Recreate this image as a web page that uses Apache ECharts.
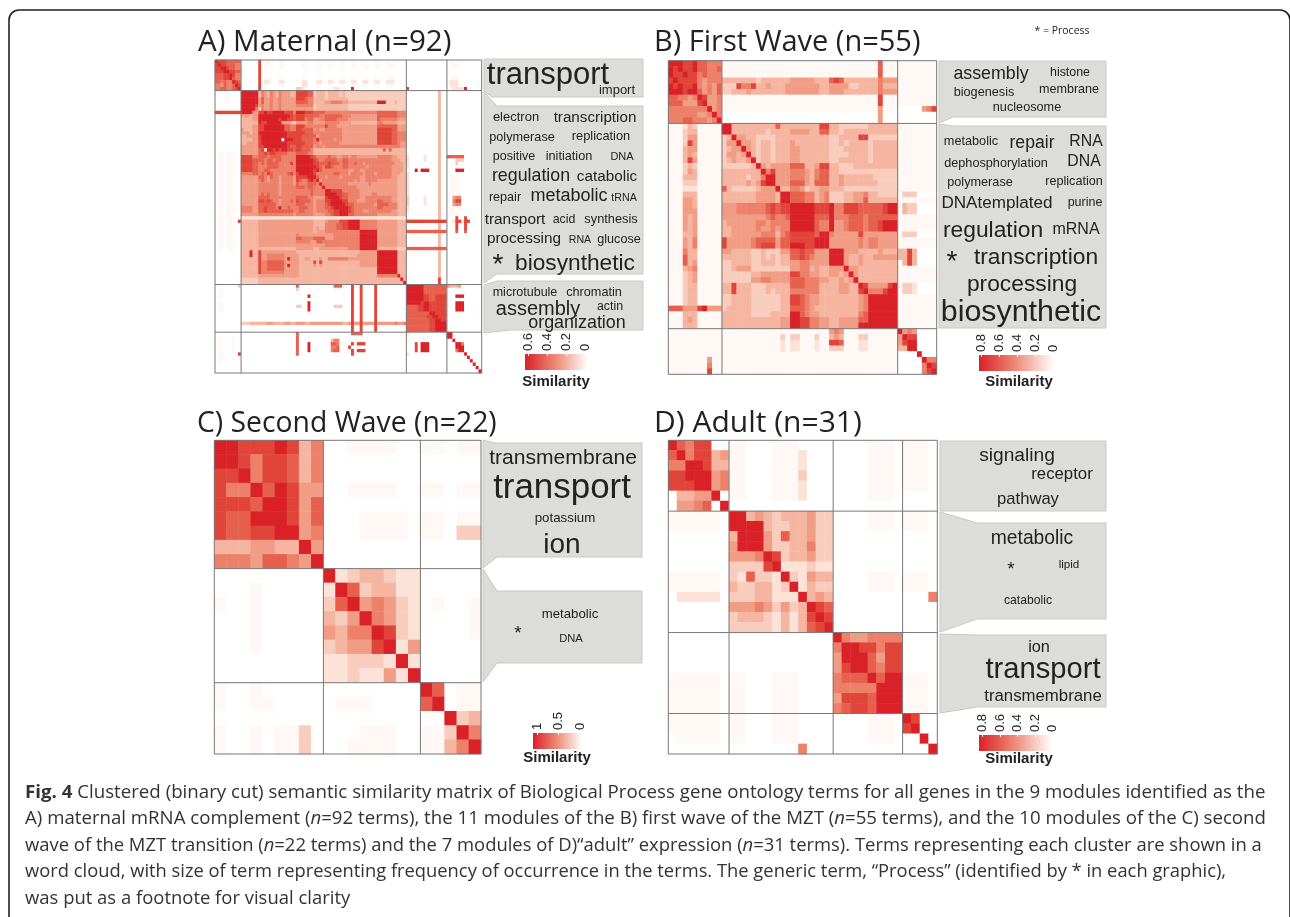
<!DOCTYPE html>
<html><head><meta charset="utf-8">
<script src="https://cdn.jsdelivr.net/npm/echarts@6/dist/echarts.min.js"></script>
<style>html,body{margin:0;padding:0;background:#fff}#c{width:1290px;height:917px}</style>
</head><body><div id="c"></div>
<script>
// Similarity levels: 0 (none) .. 9 (strongest). Spaces only group cells for reading.
const clustersA = [9, 57, 14, 12];
const clustersB = [11, 36, 8];
const clustersC = [9, 8, 5];
const clustersD = [7, 12, 8, 4];

const matrixA = [
"988877777 000000 8011000110000 001100 0110 01100110 0110 011001 1001110 000 00000000000000 011100000000",
"898877766 000000 8011000110000 001100 0110 01100110 0110 011001 1001110 000 00000000000000 011100000000",
"889987766 000000 8011000110000 001100 0110 01100110 0110 011001 1001110 000 00000000000000 011100000000",
"888998877 000000 8000000000000 000000 0000 00000000 0000 000000 0000000 000 00000000000000 000000000000",
"777889866 000000 8000000000000 000000 0000 00000000 0000 000000 0000000 000 00000000000000 000000000000",
"777889766 000000 8011000110000 001100 0110 01100110 0110 011001 1001110 000 00000000000000 011100000000",
"776766987 000000 8022000220000 002200 0220 02200220 0220 022002 2002220 000 00000000000000 022200000000",
"665766798 000000 8011000110000 002200 0110 01100110 0110 011001 1001110 000 00000000000000 022200000000",
"667766789 000000 8000000000000 332000 0000 00022100 0900 000000 0000000 000 80000000000000 112222900000",
"000110000 999999 4654654655544 888877 3444 34444343 3333 333333 3333333 333 00000000000400 000000000000",
"000110000 999999 4654654655544 888877 3444 34444343 3333 333333 3333333 333 00000000000400 000000000000",
"000110000 999999 5755655655555 888766 4444 34444444 3333 333333 3333333 333 00000000000400 000000000000",
"000110000 999999 5755655655555 777766 4444 55666655 4444 444444 9993334 333 00000000000400 000000000000",
"000000000 999998 5655655655555 666666 3444 44444444 3333 333333 3333333 333 00000000000400 000000000000",
"000000000 999996 3655655655555 555555 3444 44444444 3333 333333 3333333 333 00000000000400 000000000000",
"888888888 999955 8898899998886 999888 7777 66666666 6666 666666 7777777 666 00000000000400 000000000000",
"000000000 555455 9999999999987 888777 7766 77777766 6555 555555 7777777 666 00000000000400 000000000000",
"000000000 444455 9999999899887 888677 5566 77776666 5555 555555 7666666 555 00000000000400 000000000000",
"000000000 444444 9889999955543 555566 5555 66666555 5444 444444 6655555 444 00000000000400 000000000000",
"000000000 444455 8899999997766 888666 6666 86665555 5555 555555 7777777 555 00000000000400 000000000000",
"000000000 544455 8899999997766 887777 5655 66666655 5555 555555 8888877 555 00000000000400 000000000000",
"000000000 555455 9999999999888 888777 6666 66666655 5555 555555 8888877 666 00000000000400 000000000000",
"000000000 445555 8999999999888 887777 7566 66666655 5555 555555 8888877 666 00000000000400 000000000000",
"000000000 444455 8999999929998 887777 6966 66656655 5555 555555 8888877 666 00000000000400 000000000000",
"000000000 445555 8999999999888 888777 6656 66666555 5555 555555 8888877 655 00000000000400 000000000000",
"000000000 555555 8899999999877 887777 5665 66666666 6666 666666 6666666 655 00000000000400 000000000000",
"000000000 555555 7829989899887 887776 4444 44444444 4444 444444 4474744 444 00000000000400 000000000000",
"011011100 555555 7787887777666 777766 4444 44444444 4444 444444 4444444 444 00000000000400 011110000000",
"011011100 888866 7776777766666 999998 7666 67665566 5665 555555 6666655 444 20000020000400 777777000000",
"011011100 888877 7767767766666 999999 8766 77776677 6666 666666 6666655 544 20000020000400 000333000000",
"011011100 888877 6767777666686 999999 8877 78777677 6676 656666 6666665 554 20000000000400 000300000000",
"011011100 888877 6667777666666 999999 9876 88766677 6666 665666 6666655 554 20000000000400 000100000000",
"011011100 888877 6677666666666 999999 8976 66666666 5566 556666 6666655 554 00090999000400 000999000000",
"011011100 666677 6768766666786 899999 8666 66677666 5666 656665 6666655 544 20000000000400 000100000000",
"011011100 555555 7765766566665 888899 9766 56666566 6666 556666 6666655 444 20000000000400 011110000000",
"011011100 555555 6765666566665 876689 7956 66666666 6656 556666 5555555 444 20000000000400 011110000000",
"011011100 555555 6666666566665 766677 7696 66666666 5555 555655 5555555 444 20000000000400 011110000000",
"011011100 555555 6666666566666 777677 6669 66666666 6665 555555 5555555 444 20000000000400 011110000000",
"011011100 555555 6666666566666 666667 6666 99888866 6666 555555 5555555 444 20000000000400 011110000000",
"011011100 555555 6767666566666 666667 6666 99998877 6666 555566 5555555 444 20000000000400 011110000000",
"011011100 555555 7777666666666 777766 5555 89999877 6666 556666 6666655 444 30000020000400 005660000000",
"011011100 555555 8878766566676 877776 5666 88999988 6665 556666 7766655 444 30000020000400 006880000000",
"011011100 555555 7777776566666 777666 5666 78999998 7766 666665 7777666 444 30000020000400 005660000000",
"011011100 666655 7787776966766 677766 5666 77899999 8766 666666 7766666 444 20000000000400 011110000000",
"011011100 666655 7787777777776 677666 5666 67788999 8766 655666 6666655 444 20000000000400 011110000000",
"011011100 555555 6666666666665 666666 5555 66788999 7766 666666 5555555 444 00000000000400 011110000000",
"011011100 222222 2222222222222 222222 2222 22222222 2222 222222 2222222 222 00000000000400 000800800000",
"011011108 444444 5555555555555 555555 4444 56666888 9999 666666 5555555 444 88888888888888 002882880000",
"011011100 444444 5555555555555 555555 4444 66667788 9999 666666 5555555 444 00000000000400 000800800000",
"011011100 444444 5555555555555 555555 4544 66667788 9999 666666 5555555 444 00000000000400 000800800000",
"011011100 444444 5555555555555 555555 4555 66666666 6666 999999 5555555 444 77777777777777 000700700000",
"011011100 444444 5555555555555 655555 5555 55566666 6666 999999 5555555 444 00000000000400 000000000000",
"011011100 444444 5555555555555 776666 7777 55566666 6666 999999 5555555 444 00000000000400 000000000000",
"011011100 444444 5555555555555 666665 5776 66666666 6666 999999 5555555 444 00000000000400 000000000000",
"011011100 444444 5555555555555 555555 5555 66666666 6666 999999 5555555 444 00000000000400 000000000000",
"011011100 444444 4444444444444 555555 4455 55555555 6666 999999 4444444 333 77777777777777 000000000000",
"000000000 444944 8555555555555 444444 4444 44444444 4444 555555 9999999 444 00000000000400 000000000000",
"000000000 444944 8556666665555 544444 4444 44444444 4445 555555 9999999 444 00000000000400 000000000000",
"000000000 444444 8556666665955 544554 4454 46666666 5555 555555 9999999 444 00000000000400 000000000000",
"000000000 444444 8667777775555 544444 8484 44444444 4444 555555 9999999 444 00000000000400 000000000000",
"000000000 444444 8667777775955 544444 5454 44444444 4444 555555 9999999 444 00000000000400 000000000000",
"000000000 444444 8667777775555 544444 4444 44444444 4444 444444 9999999 444 00000000000400 000000000000",
"000000000 444444 8666666665555 544444 4444 44444444 4444 444444 9999999 444 00000000000400 000000000000",
"000000000 444444 5555555555555 544444 4444 44444444 4444 444444 6666666 944 00000000000400 000000000000",
"000000000 333333 4444444444444 444444 4444 44444444 4444 444444 4444444 494 00000000000800 000000000000",
"000000000 333333 4444444444444 444444 4444 44444444 4444 444444 4444444 449 00000000000800 000000000000",
"000000003 000000 0000000000000 700000 0000 00077700 0800 800008 0000000 000 99999977777777 544450000000",
"011000000 000000 0000000000000 300000 0000 00011100 0800 800008 0000000 000 99999977777777 000111000000",
"011000000 000000 0000000000000 000000 0000 00000000 0800 800008 0000000 000 99999977777777 000000000000",
"011000000 000000 0000000000000 000090 0000 00000000 0800 800008 0000000 000 99999988778888 000999000000",
"000000000 000000 0000000000000 000000 0000 00000000 0800 800008 0000000 000 99999988778888 000100000000",
"011000000 000000 0000000000000 000090 0000 00000000 0800 800008 0000000 000 99999899888888 000999000000",
"011000000 000000 0000000000000 330090 0000 00033300 0800 800008 0000000 000 77778899888888 000999000000",
"011000000 000000 0000000000000 000090 0000 00000000 0800 800008 0000000 000 77778899888888 000999000000",
"000000000 000000 0000000000000 000000 0000 00000000 0800 800008 0000000 000 77777777998888 000000000000",
"000000000 000000 0000000000000 000000 0000 00000000 0800 800008 0000000 000 77777778899888 000000000000",
"000000000 000000 0000000000000 000000 0000 00000000 0800 800008 0000000 000 77777777889988 000000000000",
"000000000 333444 4445544445544 555445 5555 55555544 5855 855558 5555556 556 77777777889999 000000000000",
"000000000 000000 0000000000000 000000 0000 00000000 0800 800008 0000000 000 77777777889999 000000000000",
"000000000 000000 0000000000000 000000 0000 00000000 0800 800008 0000000 000 77777777889999 000000000000",
"000000000 000000 0000000000000 700000 0000 00000000 0777 700000 0000000 000 20000000000000 990000000000",
"011000100 000000 0000000000000 700000 0000 00000000 0000 000000 0000000 000 10000000000000 990000000000",
"011000100 000000 0000000000000 700000 0000 00466000 0000 000000 0000000 000 10000000000000 009000000000",
"011000100 000000 0000000000000 700090 0000 00776000 0808 880000 0000000 000 00080999000000 000996000000",
"011000100 000000 0000000000000 700090 0000 00667000 8000 000000 0000000 000 00080999000000 000999000000",
"011000100 000000 0000000000000 700090 0000 00677000 0808 880000 0000000 000 00080999000000 000699000000",
"011000108 000000 0000000000000 700000 0000 00000000 0800 000000 0000000 000 20000000000000 000000900000",
"011000100 000000 0000000000000 000000 0000 00000000 0000 000000 0000000 000 00000000000000 000000090000",
"011000100 000000 0000000000000 000000 0000 00000000 0000 000000 0000000 000 00000000000000 000000009000",
"000000000 000000 0000000000000 000000 0000 00000000 0000 000000 0000000 000 00000000000000 000000000900",
"000000000 000000 0000000000000 000000 0000 00000000 0000 000000 0000000 000 00000000000000 000000000090",
"000000000 000000 0000000000000 000000 0000 00000000 0000 000000 0000000 000 00000000000000 000000000009"
];

const matrixB = [
"99988977666 111111 111111 111111 111111 111111 117111 11111111",
"98988977667 111111 111111 111111 111111 111111 117111 11111111",
"98898867666 111111 111111 111111 111111 111111 117111 11111111",
"89888865666 444444 434444 445555 544478 744444 446555 11111111",
"98988965657 333866 844544 455555 554455 553344 446444 11111111",
"99989975657 334445 444444 455555 554455 544444 446555 11111111",
"77665698556 111111 111111 111111 111111 111111 118111 11111111",
"77755589556 111111 111111 111111 111111 111111 118111 11111111",
"66666666956 111111 111111 111111 111111 111111 115111 00000568",
"66666655696 000000 000000 000000 000000 000000 005000 00000000",
"66677666569 000000 000000 000000 000000 000000 005000 00000000",
"11124311111 994444 444447 444444 448844 333333 444444 11111111",
"11134411111 994444 444344 445555 447744 344444 444444 11111111",
"11135511111 349554 433334 444444 444433 444488 333333 11111111",
"11138511111 355955 434434 445444 444433 434444 344444 11111111",
"11145511111 345595 434434 445544 444433 344444 344444 11111111",
"11145411111 355459 434434 445544 444433 334444 344444 11111111",
"11148511111 345445 934434 445544 444433 444444 344444 11111111",
"11134311111 333333 495455 557774 458844 333444 444444 11111111",
"11135411111 444444 449685 556665 467744 333333 333333 11111111",
"11144411111 444443 446995 556665 467744 544444 433333 11111111",
"11133311111 444445 458995 557775 477744 544444 443333 11111111",
"11122211111 743333 345559 446653 445544 433333 333333 11111111",
"11144411111 444444 455554 997776 645633 344556 443333 13330000",
"11155411111 444444 455554 997776 645633 344557 444444 11111111",
"11155411111 555666 666787 889999 988896 688877 777899 14330000",
"11155511111 555666 666787 889999 988896 688877 777899 14330000",
"11154511111 555555 555676 679999 977796 667776 777777 11111111",
"11154511111 455555 566566 669999 976695 567776 778999 11111111",
"11154511111 445555 565565 669999 976695 567776 778999 11111111",
"11144511111 445555 556664 678888 879965 555585 555555 13330000",
"11154611111 855555 677775 778888 899955 555565 665555 11111111",
"11154611111 855555 678885 779998 899955 555565 665555 11111111",
"11164411111 554444 334333 557787 755599 955544 445444 44840000",
"11174411111 444444 334343 447787 655599 954454 455555 44840000",
"11174511111 334444 334443 445566 555599 954454 444444 04840000",
"11145611111 334555 333333 335566 454455 595544 444444 11111111",
"11134511111 333333 445555 558866 554455 459544 444444 11111111",
"11134511111 333333 556655 557776 665544 545944 444444 11111111",
"11134411111 448444 333444 447776 664444 554498 555589 13320000",
"11134411111 448444 333434 446666 664444 554489 666899 13320000",
"11134411111 334444 333333 448876 554444 444456 999999 11111111",
"11134411111 334444 333333 448876 554444 444456 999999 11111111",
"77755589555 344444 333333 447776 544444 444456 999999 11111111",
"11144411111 444444 333344 449976 554444 444467 999999 11111111",
"11145411111 444444 444444 559988 665544 555577 999999 11111111",
"11144411111 444444 444444 559988 665544 555599 999999 11111111",
"11111111111 111111 111111 111111 111156 511111 111111 95650000",
"11111111111 111111 111111 313311 131145 411133 111111 59880000",
"11111111111 111111 111111 212211 121188 711122 111111 58990000",
"11111111111 111111 111111 212211 121133 311122 111111 44990000",
"11111111111 111111 111111 111111 111111 111111 111111 00009000",
"11111111511 111111 111111 111111 111111 111111 111111 00000966",
"11111111611 111111 111111 111111 111111 111111 111111 00000698",
"11111111811 111111 111111 111111 111111 111111 111111 00000689"
];

const matrixC = [
"998889846 00111100 11011",
"998688746 00000000 00000",
"889688746 00000000 00000",
"866979855 00111100 11011",
"888799857 00000000 00000",
"877999857 00011110 11011",
"877889956 00011110 11033",
"444554495 00000000 00000",
"666577659 00000000 00000",
"000000000 92344322 00000",
"000100000 29734422 00000",
"100100000 37956532 01001",
"000100000 43596532 00001",
"000100000 54669832 00001",
"000100000 34558925 00000",
"000000000 22333292 00000",
"000000000 22322529 00000",
"100100000 00000000 97011",
"100110000 01110000 79011",
"000000000 00000000 00934",
"100101130 00011100 11396",
"100101130 00111100 11469"
];

const matrixD = [
"9768800 110001110000 00001110 1110",
"7968845 110001112000 00001110 1110",
"6699844 110001112000 00001110 1110",
"8899956 110001113000 00001110 1110",
"8889956 110001112000 00001110 1110",
"0445590 110001112000 00001110 0000",
"0556709 000000000000 00000000 0000",
"1111110 994543444533 00001110 1110",
"1111110 999943344533 00001110 1110",
"0000000 499953744533 00000000 0000",
"0000000 599953344633 00000000 0000",
"0000000 555698344533 00000000 0000",
"0000000 333389222322 00000000 0000",
"1111110 327332932544 00001110 1110",
"1111110 433442392433 00001110 1110",
"0222220 333442229454 00000000 0006",
"0000000 555653534987 00000000 0000",
"0000000 344432424898 00000000 0000",
"0000000 333332424789 00000000 0000",
"0000000 000000000000 96556666 0000",
"0000000 000000000000 69988688 0000",
"0000000 000000000000 59997588 0000",
"0000000 000000000000 58997688 0000",
"1111110 110001110000 67779799 1110",
"1111110 110001110000 66666999 1110",
"1111110 110001110000 58887999 1110",
"1111110 110001110000 67887999 1110",
"1111110 110001110000 00001110 9800",
"1111110 110001110000 00001110 8900",
"0111110 110001110000 00001110 0090",
"0000000 000000006000 00000000 0009"
];

const panelTitles = ["A) Maternal (n=92)", "B) First Wave (n=55)", "C) Second Wave (n=22)", "D) Adult (n=31)"];
const legendTicksA = ["0.6", "0.4", "0.2", "0"];
const legendTicksB = ["0.8", "0.6", "0.4", "0.2", "0"];
const legendTicksC = ["1", "0.5", "0"];
const legendTicksD = ["0.8", "0.6", "0.4", "0.2", "0"];
const captionLines = [
"{b|Fig. 4} Clustered (binary cut) semantic similarity matrix of Biological Process gene ontology terms for all genes in the 9 modules identified as the",
"A) maternal mRNA complement ({i|n}=92 terms), the 11 modules of the B) first wave of the MZT ({i|n}=55 terms), and the 10 modules of the C) second",
"wave of the MZT transition ({i|n}=22 terms) and the 7 modules of D)\u201cadult\u201d expression ({i|n}=31 terms). Terms representing each cluster are shown in a",
"word cloud, with size of term representing frequency of occurrence in the terms. The generic term, \u201cProcess\u201d (identified by * in each graphic),",
"was put as a footnote for visual clarity"
];
const cloudWords = [
"transport","import",
"electron","transcription","polymerase","replication","positive","initiation","DNA","regulation","catabolic","repair","metabolic","tRNA","transport","acid","synthesis","processing","RNA","glucose","*","biosynthetic",
"microtubule","chromatin","assembly","actin","organization",
"assembly","histone","biogenesis","membrane","nucleosome",
"metabolic","repair","RNA","dephosphorylation","DNA","polymerase","replication","DNAtemplated","purine","regulation","mRNA","*","transcription","processing","biosynthetic",
"transmembrane","transport","potassium","ion",
"metabolic","*","DNA",
"signaling","receptor","pathway",
"metabolic","*","lipid","catabolic",
"ion","transport","transmembrane"
];

// ---- layout (not data) ----
const wordLayout = [
[548,73,31],[617,90,13],
[516,117,13],[595,117,15.2],[522,137,12.7],[601,136,12.8],[514,156,12.5],[569,156,12.7],[622,156,11],[531,175,17.8],[607,176,15.3],[505,197,12.6],[569,195,18],[624,197,10.7],[515,219,15.4],[564,219,12.4],[611,219,12.8],[524,238,15.3],[580,239,10.6],[619,239,12.6],[498,263,28],[575,262,22.7],
[525,292,12.5],[594,292,12.7],[538,308,20],[610,306,12.3],[577,322,17.9],
[991,73,17.8],[1070,72,12.4],[984,92,12.7],[1069,89,12.6],[1027,107,12.7],
[971,141,12.7],[1032,142,17.6],[1086,141,15.8],[996,163,12.7],[1084,161,15.8],[980,182,12.7],[1074,181,12.6],[997,202,17.1],[1085,202,12.5],[993,229,22.8],[1076,228,16],[952,260,28],[1036,256,22.8],[1022,283,22.8],[1021,310,30.4],
[563,457,21.1],[562,486,34.9],[565,517,13.3],[562,543,28],
[570,613,13.2],[518,632,19],[571,638,11.2],
[1017,454,19.2],[1062,473,16.8],[1028,498,16.6],
[1032,537,19.3],[1011,568,19],[1069,564,11.6],[1028,600,12.2],
[1039,646,16.3],[1043,668,29.2],[1043,695,16.8]
];
const titleLayout = [[198,43,1.02],[654,43,1],[197,424,0.977],[654,424,1.035]];
const captionY = [793,819,846,872,899];
const captionScale = [1.038,1.036,1.023,1.019,1.025];
const gridLayout = [
 {left:215,top:60,width:266.7,height:313},
 {left:668.3,top:60.7,width:268.4,height:313.6},
 {left:214.3,top:440.3,width:266.7,height:313.7},
 {left:668.3,top:440.3,width:269,height:313.7}
];
const legendLayout = [
 {x:525,w:63,y:354,h:16,lx:[528,547,566,585],base:351,cx:556,cy:382},
 {x:979,w:75,y:355,h:16,lx:[981,999,1017,1035,1053],base:352,cx:1019,cy:382},
 {x:533,w:49,y:733,h:16,lx:[537,558,580],base:730,cx:557,cy:758},
 {x:979,w:73,y:735,h:16,lx:[982,1000,1017,1035,1052],base:732,cx:1019,cy:759}
];
const panelPolys = [
 [[484,59],[643,59],[643,97],[492,97],[484,91]],
 [[484,92],[497,106],[643,106],[643,274],[497,274],[484,283]],
 [[484,285],[497,281],[643,281],[643,330],[510,330],[484,333]],
 [[939,61],[1106,61],[1106,117],[953,117],[939,123]],
 [[939,124],[953,126],[1106,126],[1106,328],[939,328]],
 [[483,440],[495,443],[642,443],[642,557],[497,557],[483,568]],
 [[483,569],[497,591],[642,591],[642,663],[497,663],[483,682]],
 [[940,441],[1106,441],[1106,511],[940,511]],
 [[940,512],[977,523],[1106,523],[1106,619],[977,619],[940,632]],
 [[940,634],[977,635],[1106,635],[1106,707],[977,707],[940,713]]
];

const levelColors = ['#ffffff','#fff8f5','#fde2d7','#f9cdbd','#f5b5a0','#f19c85','#ec8069','#e7604e','#e14439','#da2128'];
const WORD_FONT = '"Liberation Sans", Arial, sans-serif';
const TITLE_FONT = '"Open Sans", sans-serif';

const matrices = [matrixA, matrixB, matrixC, matrixD];
const clusters = [clustersA, clustersB, clustersC, clustersD];
const legends = [legendTicksA, legendTicksB, legendTicksC, legendTicksD];

function cells(rows){
  const out = [];
  rows.forEach((r,y)=>{ const s = r.replace(/\s+/g,''); for(let x=0;x<rows.length;x++){ out.push([x,y,+(s[x]||0)]); } });
  return out;
}
function separators(sizes){
  const n = sizes.reduce((a,b)=>a+b,0), segs = [[0,0,n,0],[0,n,n,n],[0,0,0,n],[n,0,n,n]];
  let c = 0;
  sizes.slice(0,-1).forEach(s=>{ c+=s; segs.push([c,0,c,n]); segs.push([0,c,n,c]); });
  return segs;
}

const grid=[], xAxis=[], yAxis=[], series=[], heatIdx=[];
matrices.forEach((rows,i)=>{
  const n = rows.length, idx = [...Array(n).keys()];
  grid.push(gridLayout[i]);
  xAxis.push({type:'category',gridIndex:i,data:idx,show:false});
  yAxis.push({type:'category',gridIndex:i,data:idx,show:false,inverse:true});
  xAxis.push({type:'value',gridIndex:i,min:0,max:n,show:false});
  yAxis.push({type:'value',gridIndex:i,min:0,max:n,show:false,inverse:true});
  heatIdx.push(series.length);
  series.push({type:'heatmap',xAxisIndex:2*i,yAxisIndex:2*i,data:cells(rows),progressive:0,silent:true,emphasis:{disabled:true},itemStyle:{borderWidth:0}});
  series.push({type:'custom',xAxisIndex:2*i+1,yAxisIndex:2*i+1,clip:false,silent:true,z:5,
    data:separators(clusters[i]),encode:{x:[0,2],y:[1,3]},
    renderItem:(p,api)=>{
      const a=api.coord([api.value(0),api.value(1)]), b=api.coord([api.value(2),api.value(3)]);
      return {type:'line',shape:{x1:a[0],y1:a[1],x2:b[0],y2:b[1]},style:{stroke:'#777',lineWidth:1}};
    }});
});

const gfx=[];
gfx.push({type:'rect',shape:{x:9,y:10,width:1281,height:930,r:10},style:{fill:'none',stroke:'#222',lineWidth:1.6},silent:true});
panelPolys.forEach(p=>gfx.push({type:'polygon',shape:{points:p},style:{fill:'#dcdcd8',stroke:'#c8c8c4',lineWidth:1},silent:true}));
cloudWords.forEach((w,i)=>{
  const [x,y,s]=wordLayout[i];
  gfx.push({type:'text',x,y:y+s*0.07,silent:true,style:{text:w,font:s+'px '+WORD_FONT,fill:'#222',align:'center',verticalAlign:'middle'}});
});
panelTitles.forEach((t,i)=>{
  gfx.push({type:'text',x:titleLayout[i][0],y:titleLayout[i][1],scaleX:titleLayout[i][2],silent:true,style:{text:t,font:'29px '+TITLE_FONT,fill:'#222',align:'left',verticalAlign:'middle'}});
});
gfx.push({type:'text',x:1062,y:31,silent:true,style:{text:'* = Process',font:'10.5px '+TITLE_FONT,fill:'#222',align:'center',verticalAlign:'middle'}});
legendLayout.forEach((L,i)=>{
  gfx.push({type:'rect',shape:{x:L.x,y:L.y,width:L.w,height:L.h},silent:true,style:{fill:{type:'linear',x:0,y:0,x2:1,y2:0,colorStops:[{offset:0,color:'#da2128'},{offset:.5,color:'#ee8d78'},{offset:1,color:'#ffffff'}]}}});
  legends[i].forEach((t,k)=>{
    gfx.push({type:'text',x:L.lx[k],y:L.base,rotation:Math.PI/2,silent:true,style:{text:t,font:'13px '+WORD_FONT,fill:'#222',align:'left',verticalAlign:'middle'}});
    gfx.push({type:'rect',shape:{x:L.lx[k],y:L.y,width:1,height:2},silent:true,style:{fill:'#fff'}});
  });
  gfx.push({type:'text',x:L.cx,y:L.cy,silent:true,style:{text:'Similarity',font:'bold 15px '+WORD_FONT,fill:'#222',align:'center',verticalAlign:'middle'}});
});
captionLines.forEach((t,i)=>{
  gfx.push({type:'text',x:25,y:captionY[i],scaleX:captionScale[i],silent:true,style:{text:t,font:'18px '+TITLE_FONT,fill:'#333',align:'left',verticalAlign:'middle',
    rich:{b:{font:'bold 18px '+TITLE_FONT,fill:'#333'},i:{font:'italic 18px '+TITLE_FONT,fill:'#333'}}}});
});

const chart = echarts.init(document.getElementById('c'),null,{renderer:'canvas'});
chart.setOption({
  animation:false,
  backgroundColor:'#fff',
  grid,xAxis,yAxis,series,
  visualMap:[{type:'continuous',show:false,min:0,max:9,dimension:2,seriesIndex:heatIdx,inRange:{color:levelColors}}],
  graphic:{elements:gfx}
});
</script></body></html>
